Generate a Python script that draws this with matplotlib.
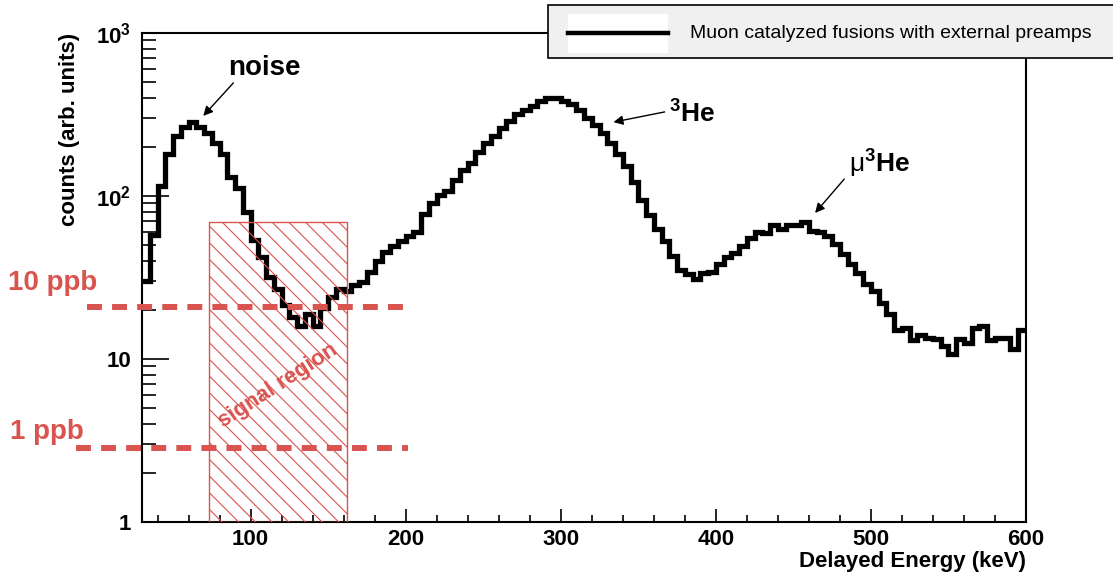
import matplotlib
matplotlib.use('Agg')
import matplotlib.pyplot as plt
import numpy as np
from matplotlib.lines import Line2D
from matplotlib.patches import Rectangle
from matplotlib.ticker import FixedLocator, LogLocator, MultipleLocator, NullFormatter

plt.rcParams['font.family'] = ['Liberation Sans', 'DejaVu Sans']
plt.rcParams['mathtext.fontset'] = 'custom'
plt.rcParams['mathtext.rm'] = 'Liberation Sans'
plt.rcParams['mathtext.bf'] = 'Liberation Sans:bold'
plt.rcParams['mathtext.it'] = 'Liberation Sans:italic'
plt.rcParams['hatch.linewidth'] = 0.8

RED = '#d9534f'

# delayed energy spectrum, 5 keV bins starting at 30 keV
bin_lo = 30
bin_width = 5
counts = [
    30, 58, 115, 180, 235, 265, 285, 265, 245, 212,
    180, 130, 112, 80, 54, 42, 32, 27, 21.5, 18,
    16, 19, 16, 20.5, 24, 27, 26, 28.5, 29.5, 34,
    40, 45.5, 49, 53, 57, 60, 78, 90, 101, 108,
    125, 144, 160, 185, 212, 235, 262, 290, 318, 335,
    358, 382, 398, 400, 385, 365, 335, 300, 272, 245,
    212, 180, 152, 122, 94, 76, 63, 53, 43, 35,
    33, 31, 33.5, 34, 38, 42, 45, 49, 55, 60,
    59, 66, 63, 66, 66, 69, 61, 60, 57, 51,
    44, 38, 33.5, 29, 26, 22, 19, 15, 15.5, 13,
    14, 13.4, 13.2, 12, 10.8, 13.2, 12.6, 15.5, 16, 13,
    13.4, 13.5, 11.5, 15,
]
edges = bin_lo + bin_width * np.arange(len(counts) + 1)

signal_lo, signal_hi, signal_top = 73, 162, 69
ppb_names = ['10 ppb', '1 ppb']
ppb_levels = [20.8, 2.85]
ppb_x_ranges = [(-5.5, 204), (-12.5, 201.5)]

y_ticks = [1, 10, 100, 1000]
y_ticklabels = ['1', '10', r'$\mathbf{10^{2}}$', r'$\mathbf{10^{3}}$']
x_ticks = [100, 200, 300, 400, 500, 600]

W, H = 1113, 576
fig = plt.figure(figsize=(W / 100, H / 100), dpi=100)
ax = fig.add_axes([142 / W, 1 - 522 / H, (1026 - 142) / W, (522 - 33) / H])

ax.stairs(counts, edges, baseline=None, color='black', lw=3.8, zorder=3)

box = Rectangle((signal_lo, 1), signal_hi - signal_lo, signal_top - 1,
                facecolor='none', edgecolor=RED, lw=1.0, hatch='\\\\', zorder=4)
ax.add_patch(box)
ax.text((signal_lo + signal_hi) / 2, 6.9, 'signal region', color=RED,
        fontsize=16, fontweight='bold', rotation=33,
        ha='center', va='center', zorder=5)

for name, level, (x0, x1) in zip(ppb_names, ppb_levels, ppb_x_ranges):
    ax.plot([x0, x1], [level, level], color=RED, lw=4.3,
            dashes=(2.5, 1.7), clip_on=False, zorder=6)

fig.text(8 / W, 1 - 283 / H, ppb_names[0], color=RED, fontsize=20,
         fontweight='bold', ha='left', va='center')
fig.text(10 / W, 1 - 432 / H, ppb_names[1], color=RED, fontsize=20,
         fontweight='bold', ha='left', va='center')

arrow = dict(arrowstyle='-|>', color='black', lw=1.0, mutation_scale=14,
             shrinkA=0, shrinkB=0)
ax.annotate('', xy=(69.5, 310), xytext=(88.9, 494), arrowprops=arrow)
ax.text(85.6, 610, 'noise', fontsize=20, fontweight='bold', ha='left', va='center')

ax.annotate('', xy=(334, 284), xytext=(367, 328), arrowprops=arrow)
ax.text(370, 318, r'$^{\mathbf{3}}$He', fontsize=19, fontweight='bold',
        ha='left', va='center')

ax.annotate('', xy=(464, 78.7), xytext=(482.8, 127), arrowprops=arrow)
ax.text(486, 157, r'$\mathrm{\mu}^{\mathbf{3}}$He', fontsize=19, fontweight='bold',
        ha='left', va='center')

ax.set_yscale('log')
ax.set_xlim(30, 600)
ax.set_ylim(1, 1000)
ax.yaxis.set_major_locator(FixedLocator(y_ticks))
ax.set_yticklabels(y_ticklabels)
ax.yaxis.set_minor_locator(LogLocator(base=10, subs=range(2, 10)))
ax.yaxis.set_minor_formatter(NullFormatter())
ax.xaxis.set_major_locator(FixedLocator(x_ticks))
ax.xaxis.set_minor_locator(MultipleLocator(20))

ax.tick_params(axis='both', which='both', direction='in', width=1.2,
               labelsize=16, top=False, right=False)
for lab in ax.get_xticklabels() + ax.get_yticklabels():
    lab.set_fontweight('bold')
ax.tick_params(axis='x', which='major', length=9.5, pad=5)
ax.tick_params(axis='x', which='minor', length=5)
ax.tick_params(axis='y', which='major', length=19.5, pad=8)
ax.tick_params(axis='y', which='minor', length=10)
for sp in ax.spines.values():
    sp.set_linewidth(1.5)

ax.set_xlabel('Delayed Energy (keV)', fontsize=16, fontweight='bold',
              loc='right', labelpad=1)
fig.text(69 / W, 1 - 33 / H, 'counts (arb. units)', fontsize=16,
         fontweight='bold', rotation=90, ha='center', va='top')

# legend drawn by hand, box runs past the right edge like the original
leg = Rectangle((548 / W, 1 - 58 / H), (1130 - 548) / W, 53 / H,
                transform=fig.transFigure, facecolor='#f0f0f0',
                edgecolor='black', lw=1.2, zorder=10)
fig.patches.append(leg)
sample_bg = Rectangle((568 / W, 1 - 53 / H), (668 - 568) / W, 39 / H,
                      transform=fig.transFigure, facecolor='white',
                      edgecolor='none', zorder=11)
fig.patches.append(sample_bg)
fig.lines.append(Line2D([568 / W, 668 / W], [1 - 33 / H, 1 - 33 / H],
                        transform=fig.transFigure, color='black', lw=3.2,
                        zorder=12))
fig.text(690 / W, 1 - 33 / H, 'Muon catalyzed fusions with external preamps',
         fontsize=14, ha='left', va='center', zorder=13)

fig.savefig('out.png', dpi=100)
